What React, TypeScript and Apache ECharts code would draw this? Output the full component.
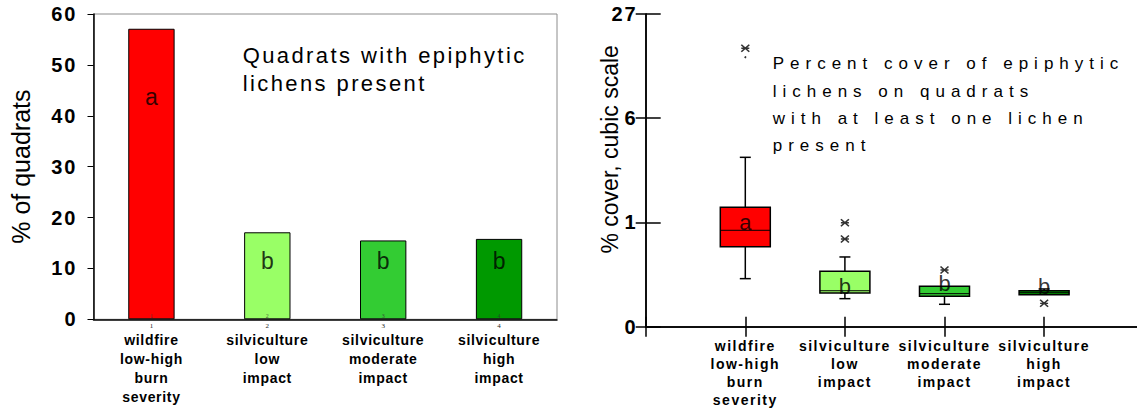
import React, { useEffect, useRef } from 'react';
import * as echarts from 'echarts';

const FONT = 'Arial, "Liberation Sans", Helvetica, sans-serif';

// ---- shared ----
const categories = [
  'wildfire\nlow-high\nburn\nseverity',
  'silviculture\nlow\nimpact',
  'silviculture\nmoderate\nimpact',
  'silviculture\nhigh\nimpact',
];
const categoryNumbers = ['1', '2', '3', '4'];
const groupColors = ['#ff0000', '#99ff66', '#33cc33', '#009900'];

// ---- left chart: % of quadrats with lichens ----
const quadratPercent = [57.1, 17.1, 15.5, 15.8];
const leftLetters = ['a', 'b', 'b', 'b'];
const leftLetterY = [43.7, 11.5, 11.5, 11.5];
const leftTitle = 'Quadrats with epiphytic\nlichens present';

// ---- right chart: % cover, cubic scale (axis units 0..3) ----
const coverTickLabels = ['0', '1', '6', '27'];
// [min, Q1, median, Q3, max]
const coverBoxes = [
  [0.461, 0.768, 0.925, 1.146, 1.625],
  [0.269, 0.323, 0.345, 0.532, 0.669],
  [0.215, 0.292, 0.317, 0.388, 0.388],
  [0.307, 0.307, 0.326, 0.345, 0.362],
];
const coverOutliers = [
  [1, 2.671],
  [2, 0.998],
  [2, 0.841],
  [3, 0.544],
  [4, 0.224],
];
const coverOutlierDots = [[1, 2.585]];
const rightLetters = ['a', 'b', 'b', 'b'];
const rightLetterY = [1.0, 0.386, 0.41, 0.39];
const rightTitle = 'Percent cover of epiphytic\nlichens on quadrats\nwith at least one lichen\npresent';

function applySpacing(el: HTMLElement, map: Record<string, number>) {
  el.querySelectorAll('text').forEach((t) => {
    const s = (t.textContent || '').trim();
    if (map[s] !== undefined) t.setAttribute('letter-spacing', String(map[s]));
  });
}

function leftSpacingMap() {
  const m: Record<string, number> = {};
  leftTitle.split('\n').forEach((s) => (m[s] = 2.4));
  ['0', '10', '20', '30', '40', '50', '60'].forEach((s) => (m[s] = 2));
  categories.forEach((c) => c.split('\n').forEach((s) => (m[s] = 0.7)));
  return m;
}
function rightSpacingMap() {
  const m: Record<string, number> = {};
  rightTitle.split('\n').forEach((s) => (m[s] = 6));
  coverTickLabels.forEach((s) => (m[s] = 2));
  categories.forEach((c) => c.split('\n').forEach((s) => (m[s] = 1.5)));
  return m;
}

const asterisk = 'path://M0,0L8,8M8,0L0,8M0,4L8,4';

function leftOption(): any {
  return {
    animation: false,
    textStyle: { fontFamily: FONT },
    grid: {
      left: 93.5, right: 18, top: 14, bottom: 89.7,
      show: true, borderColor: '#8c8c8c', borderWidth: 1,
      outerBoundsMode: 'none', containLabel: false,
    },
    graphic: [
      {
        type: 'text', left: 242.7, top: 41, silent: true,
        style: { text: leftTitle, fontSize: 22, lineHeight: 28, fill: '#000', fontFamily: FONT },
      },
    ],
    xAxis: {
      type: 'category',
      data: categories,
      axisLine: { lineStyle: { color: '#000', width: 1.5 } },
      axisTick: { length: 3, lineStyle: { color: '#000' } },
      axisLabel: {
        interval: 0,
        margin: 3,
        formatter: (v: string, i: number) =>
          `{n|${categoryNumbers[i]}}\n` + v.split('\n').map((s) => `{t|${s}}`).join('\n'),
        rich: {
          n: { fontSize: 7, fontFamily: 'serif', lineHeight: 8, color: '#222' },
          t: { fontSize: 14, fontWeight: 'bold', lineHeight: 19, color: '#000', fontFamily: FONT },
        },
      },
    },
    yAxis: {
      type: 'value', min: 0, max: 60, interval: 10,
      axisLine: { show: true, lineStyle: { color: '#000', width: 1.5 } },
      axisTick: { show: true, length: 6, lineStyle: { color: '#000' } },
      splitLine: { show: false },
      axisLabel: { fontSize: 20, fontWeight: 'bold', color: '#000', margin: 16, fontFamily: FONT },
      name: '% of quadrats', nameLocation: 'middle', nameGap: 60, nameMoveOverlap: false,
      nameTextStyle: { fontSize: 25, color: '#000', fontFamily: FONT },
    },
    series: [
      {
        type: 'bar',
        data: quadratPercent.map((v, i) => ({ value: v, itemStyle: { color: groupColors[i] } })),
        barWidth: '40%',
        itemStyle: { borderColor: '#000', borderWidth: 1 },
      },
      {
        type: 'scatter',
        data: leftLetterY.map((v, i) => [i, v]),
        symbolSize: 0,
        z: 5,
        label: {
          show: true, position: 'inside',
          formatter: (p: any) => leftLetters[p.dataIndex],
          fontSize: 23, color: '#000', fontFamily: FONT,
        },
      },
      {
        type: 'scatter',
        data: categoryNumbers.map((_, i) => [i, 0]),
        symbolSize: 0,
        z: 5,
        label: {
          show: true, position: 'top', distance: 0,
          formatter: (p: any) => categoryNumbers[p.dataIndex],
          fontSize: 6, fontFamily: 'serif', color: '#333',
        },
      },
    ],
  };
}

function rightOption(): any {
  const axisLine = { show: true, lineStyle: { color: '#000', width: 1.5 } };
  return {
    animation: false,
    textStyle: { fontFamily: FONT },
    grid: {
      left: 70.7, right: -6.7, top: 14, bottom: 82.3,
      outerBoundsMode: 'none', containLabel: false,
    },
    graphic: [
      {
        type: 'text', left: 197.7, top: 50, silent: true,
        style: { text: rightTitle, fontSize: 17, lineHeight: 27.4, fill: '#000', fontFamily: FONT },
      },
    ],
    xAxis: [
      {
        type: 'value', min: 0, max: 5, interval: 1, position: 'bottom',
        axisLine,
        axisTick: { show: true, inside: true, length: 10, lineStyle: { color: '#000', width: 1.5 } },
        splitLine: { show: false },
        axisLabel: {
          margin: 10,
          formatter: (v: number) => categories[v - 1] ?? '',
          fontSize: 14, fontWeight: 'bold', lineHeight: 18, color: '#000', fontFamily: FONT,
        },
      },
      {
        type: 'value', min: 0, max: 5, interval: 1, position: 'top',
        axisLine,
        axisTick: { show: true, inside: true, length: 10, lineStyle: { color: '#000', width: 1.5 } },
        splitLine: { show: false },
        axisLabel: { show: false },
      },
    ],
    yAxis: [
      {
        type: 'value', min: 0, max: 3, interval: 1, position: 'left',
        axisLine,
        axisTick: { show: true, inside: true, length: 15, lineStyle: { color: '#000', width: 1.5 } },
        splitLine: { show: false },
        axisLabel: {
          formatter: (v: number) => coverTickLabels[v] ?? '',
          fontSize: 20, fontWeight: 'bold', color: '#000', margin: 8, fontFamily: FONT,
        },
        name: '% cover, cubic scale', nameLocation: 'middle', nameGap: 24, nameMoveOverlap: false,
        nameTextStyle: { fontSize: 23, color: '#000', fontFamily: FONT, padding: [0, 0, 0, 42] },
      },
      {
        type: 'value', min: 0, max: 3, interval: 1, position: 'right',
        axisLine,
        axisTick: { show: true, inside: true, length: 10, lineStyle: { color: '#000', width: 1.5 } },
        splitLine: { show: false },
        axisLabel: { show: false },
      },
    ],
    series: [
      {
        type: 'custom',
        xAxisIndex: 0, yAxisIndex: 0,
        data: coverBoxes.map((b, i) => [i + 1, ...b]),
        encode: { x: 0, y: [1, 2, 3, 4, 5] },
        renderItem: (params: any, api: any) => {
          const x = api.value(0);
          const mn = api.value(1), q1 = api.value(2), md = api.value(3), q3 = api.value(4), mx = api.value(5);
          const c = (v: number) => api.coord([x, v]);
          const pMin = c(mn), pQ1 = c(q1), pMd = c(md), pQ3 = c(q3), pMx = c(mx);
          const cx = pMd[0];
          const hw = 25, cw = 5.5;
          const ls = { stroke: '#000', lineWidth: 1.5 };
          const children: any[] = [];
          if (mx > q3) {
            children.push({ type: 'line', shape: { x1: cx, y1: pQ3[1], x2: cx, y2: pMx[1] }, style: ls });
            children.push({ type: 'line', shape: { x1: cx - cw, y1: pMx[1], x2: cx + cw, y2: pMx[1] }, style: ls });
          }
          if (mn < q1) {
            children.push({ type: 'line', shape: { x1: cx, y1: pQ1[1], x2: cx, y2: pMin[1] }, style: ls });
            children.push({ type: 'line', shape: { x1: cx - cw, y1: pMin[1], x2: cx + cw, y2: pMin[1] }, style: ls });
          }
          children.push({
            type: 'rect',
            shape: { x: cx - hw, y: pQ3[1], width: hw * 2, height: pQ1[1] - pQ3[1] },
            style: { fill: groupColors[params.dataIndex], stroke: '#000', lineWidth: 1.5 },
          });
          children.push({ type: 'line', shape: { x1: cx - hw, y1: pMd[1], x2: cx + hw, y2: pMd[1] }, style: { stroke: '#000', lineWidth: 1 } });
          return { type: 'group', children };
        },
      },
      {
        type: 'scatter',
        data: coverOutliers,
        symbol: asterisk,
        symbolSize: [8, 7],
        itemStyle: { color: 'none', borderColor: '#000', borderWidth: 1.5 },
        z: 4,
      },
      {
        type: 'scatter',
        data: coverOutlierDots,
        symbol: 'circle',
        symbolSize: 2,
        itemStyle: { color: '#000' },
      },
      {
        type: 'scatter',
        data: rightLetterY.map((v, i) => [i + 1, v]),
        symbolSize: 0,
        z: 6,
        label: {
          show: true, position: 'inside',
          formatter: (p: any) => rightLetters[p.dataIndex],
          fontSize: 22, color: '#000', fontFamily: FONT,
        },
      },
    ],
  };
}

function ChartBox(props: { option: any; spacing: Record<string, number>; style: React.CSSProperties }) {
  const ref = useRef<HTMLDivElement>(null);
  useEffect(() => {
    const el = ref.current!;
    const chart = echarts.init(el, undefined, { renderer: 'svg' });
    chart.setOption(props.option);
    const apply = () => applySpacing(el, props.spacing);
    chart.on('finished', apply);
    apply();
    const t1 = setTimeout(apply, 50);
    const t2 = setTimeout(apply, 300);
    return () => {
      clearTimeout(t1);
      clearTimeout(t2);
      chart.dispose();
    };
  }, []);
  return <div ref={ref} style={props.style} />;
}

export default function App() {
  return (
    <div style={{ position: 'absolute', left: 0, top: 0, width: 1137, height: 409, background: '#fff', overflow: 'hidden' }}>
      <ChartBox
        option={leftOption()}
        spacing={leftSpacingMap()}
        style={{ position: 'absolute', left: 0, top: 0, width: 575, height: 409 }}
      />
      <ChartBox
        option={rightOption()}
        spacing={rightSpacingMap()}
        style={{ position: 'absolute', left: 575, top: 0, width: 562, height: 409 }}
      />
    </div>
  );
}
